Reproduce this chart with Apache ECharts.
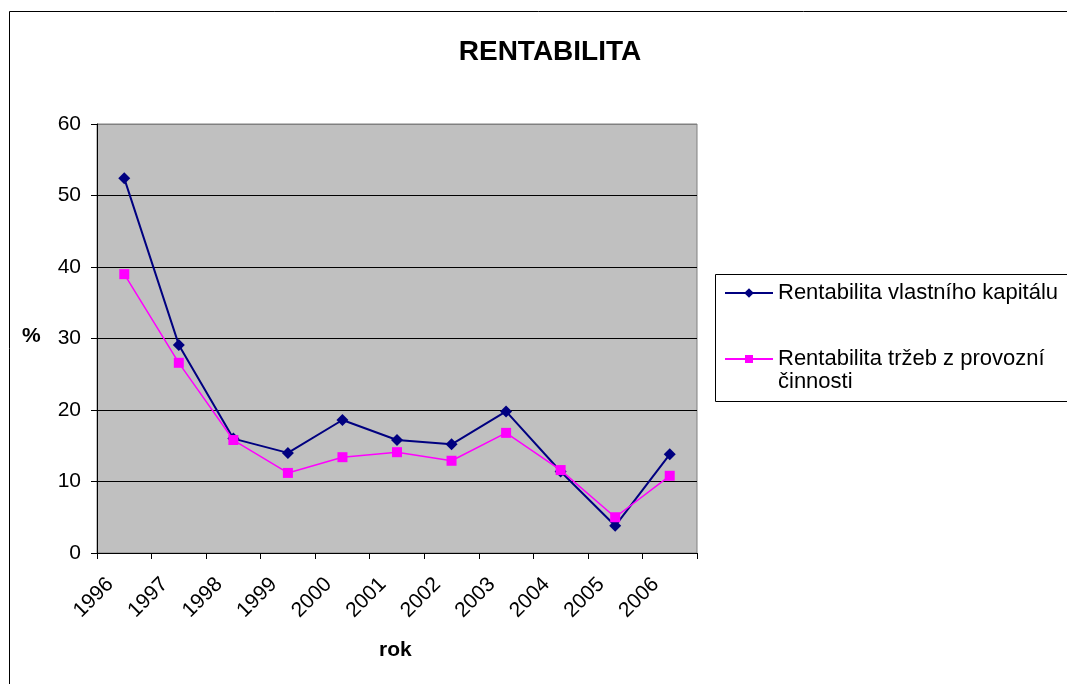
<!DOCTYPE html>
<html>
<head>
<meta charset="utf-8">
<script src="https://cdn.jsdelivr.net/npm/echarts@6/dist/echarts.min.js"></script>
<style>
  html, body { margin: 0; padding: 0; background: #fff; }
  #chart { width: 1067px; height: 684px; }
</style>
</head>
<body>
<div id="chart"></div>
<script>
// data
const years = ["1996", "1997", "1998", "1999", "2000", "2001", "2002", "2003", "2004", "2005", "2006"];
const roe = [52.4, 29.1, 16.0, 14.0, 18.6, 15.8, 15.2, 19.8, 11.4, 3.8, 13.8];        // Rentabilita vlastního kapitálu
const ros = [39.0, 26.6, 15.8, 11.2, 13.4, 14.1, 12.9, 16.8, 11.6, 5.0, 10.8];        // Rentabilita tržeb z provozní činnosti
const yTicks = [0, 10, 20, 30, 40, 50, 60];

const nameRoe = "Rentabilita vlastního kapitálu";
const nameRos = "Rentabilita tržeb z provozní činnosti";
const FONT = "Liberation Sans, Arial, sans-serif";

const chart = echarts.init(document.getElementById("chart"), null, { renderer: "canvas" });

// gridline at the top tick is the plot border (grey), the rest are black
const splitColors = yTicks.map((t, i) => (i === yTicks.length - 1 ? "#808080" : "#000"));

chart.setOption({
  animation: false,
  backgroundColor: "#fff",
  textStyle: { fontFamily: FONT },
  title: {
    text: "RENTABILITA",
    left: 545, top: 33, textAlign: "center",
    textStyle: { fontFamily: FONT, fontSize: 28, fontWeight: "bold", color: "#000" }
  },
  grid: {
    left: 97, top: 124, width: 600, height: 429,
    show: true, backgroundColor: "#c0c0c0", borderColor: "#808080", borderWidth: 1
  },
  // two legends so each entry can sit exactly where the reference has it
  legend: [
    {
      data: [nameRoe], orient: "vertical", left: 724, top: 282,
      itemWidth: 48, itemHeight: 12, itemGap: 0, padding: 0,
      textStyle: { fontFamily: FONT, fontSize: 22, color: "#000" }
    },
    {
      data: [nameRos], orient: "vertical", left: 724, top: 348,
      itemWidth: 48, itemHeight: 10, itemGap: 0, padding: 0,
      formatter: () => "Rentabilita tržeb z provozní",
      textStyle: { fontFamily: FONT, fontSize: 22, color: "#000" }
    }
  ],
  graphic: [
    { type: "rect", left: 7, top: 9, shape: { width: 1100, height: 700 }, silent: true,
      style: { fill: "none", stroke: "#000", lineWidth: 1 } },
    { type: "rect", left: 715, top: 274, shape: { width: 400, height: 127 }, silent: true,
      style: { fill: "#fff", stroke: "#000", lineWidth: 1 }, z: 0 },
    { type: "text", left: 778, top: 371, silent: true, z: 10,
      style: { text: "činnosti", font: "22px " + FONT, fill: "#000" } },
    { type: "text", left: 22, top: 326, silent: true,
      style: { text: "%", font: "bold 21px " + FONT, fill: "#000" } },
    { type: "text", left: 379, top: 640, silent: true,
      style: { text: "rok", font: "bold 21px " + FONT, fill: "#000" } }
  ],
  xAxis: {
    type: "category",
    data: years,
    boundaryGap: true,
    axisLine: { show: true, lineStyle: { color: "#000", width: 1 } },
    axisTick: { show: true, length: 6, lineStyle: { color: "#000" } },
    axisLabel: { rotate: 45, margin: 14, padding: [0, 20, 0, 0], fontFamily: FONT, fontSize: 21, color: "#000" },
    splitLine: { show: false }
  },
  yAxis: {
    type: "value",
    min: yTicks[0], max: yTicks[yTicks.length - 1], interval: 10,
    axisLine: { show: true, lineStyle: { color: "#000", width: 1 } },
    axisTick: { show: true, length: 6, lineStyle: { color: "#000" } },
    axisLabel: { margin: 16, fontFamily: FONT, fontSize: 21, color: "#000" },
    splitLine: { show: true, lineStyle: { color: splitColors, width: 1 } }
  },
  series: [
    {
      name: nameRoe, type: "line", data: roe,
      symbol: "diamond", symbolSize: 12,
      lineStyle: { color: "#000080", width: 2 },
      itemStyle: { color: "#000080" },
      z: 3
    },
    {
      name: nameRos, type: "line", data: ros,
      symbol: "rect", symbolSize: 10,
      lineStyle: { color: "#ff00ff", width: 1.5 },
      itemStyle: { color: "#ff00ff" },
      z: 4
    }
  ]
});
</script>
</body>
</html>
